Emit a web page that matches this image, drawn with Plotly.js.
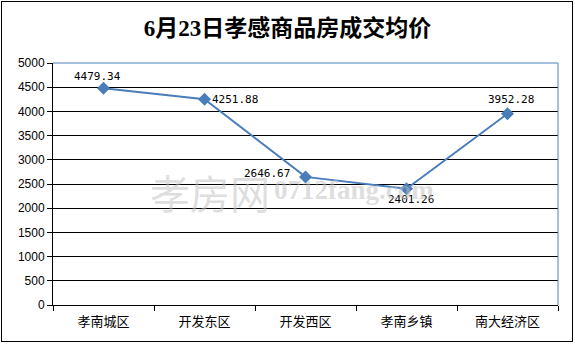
<!DOCTYPE html>
<html><head><meta charset="utf-8">
<script src="https://cdn.plot.ly/plotly-3.0.1.min.js"></script>
<style>
html,body{margin:0;padding:0;background:#fff;}
#wrap{position:absolute;left:1px;top:1px;width:572px;height:341px;border:1.5px solid #000;box-sizing:border-box;pointer-events:none;}
#chart{position:absolute;left:0;top:0;width:575px;height:344px;}
</style>
</head><body>
<div id="chart"></div>
<div id="wrap"></div>
<script>
const categories = ['孝南城区','开发东区','开发西区','孝南乡镇','南大经济区'];
const prices = [4479.34, 4251.88, 2646.67, 2401.26, 3952.28];
const priceLabels = ['4479.34','4251.88','2646.67','2401.26','3952.28'];
const yTicks = [0,500,1000,1500,2000,2500,3000,3500,4000,4500,5000];

// label placement relative to each point (style only)
const labelAnchors = [
  {xanchor: 'center', xshift: -6, yshift: 12},
  {xanchor: 'left', xshift: 5, yshift: 0},
  {xanchor: 'right', xshift: -14, yshift: 3},
  {xanchor: 'center', xshift: 4, yshift: -11},
  {xanchor: 'center', xshift: 3, yshift: 14}
];

const trace = {
  x: categories, y: prices, type: 'scatter', mode: 'lines+markers',
  line: {color: '#4a7ebb', width: 2},
  marker: {symbol: 'diamond', size: 10, color: '#4a7ebb'},
  cliponaxis: false, hoverinfo: 'none'
};

const labelAnnotations = categories.map((c, i) => Object.assign({
  x: c, y: prices[i], xref: 'x', yref: 'y', text: priceLabels[i], showarrow: false,
  yanchor: 'middle',
  font: {family: '"DejaVu Sans Mono", monospace', size: 11, color: '#000'}
}, labelAnchors[i]));

const layout = {
  width: 575, height: 344,
  margin: {l: 53, r: 17, t: 63, b: 39},
  paper_bgcolor: '#fff', plot_bgcolor: '#fff',
  showlegend: false,
  title: {text: '<b>6月23日孝感商品房成交均价</b>', x: 0.5, xanchor: 'center', y: 0.92, yanchor: 'middle',
          font: {family: '"Liberation Serif", "Noto Sans CJK SC", serif', size: 23, color: '#000'}},
  xaxis: {type: 'category', range: [-0.5, 4.5], showgrid: false, zeroline: false,
          showline: true, linecolor: '#000', linewidth: 1,
          ticks: 'outside', ticklen: 5, tickcolor: '#000', tickson: 'boundaries',
          ticklabelstandoff: 4,
          tickfont: {family: '"Noto Sans CJK SC", sans-serif', size: 13, color: '#000'}},
  yaxis: {range: [0, 5000], tickvals: yTicks, ticktext: yTicks.map(String),
          showgrid: true, gridcolor: '#000', gridwidth: 1, zeroline: false,
          showline: true, linecolor: '#000', linewidth: 1,
          ticks: 'outside', ticklen: 5, tickcolor: '#000',
          tickfont: {family: '"Liberation Sans", Arial, sans-serif', size: 12, color: '#000'}},
  shapes: [
    {type: 'line', xref: 'paper', yref: 'paper', x0: 0, x1: 1, y0: 1, y1: 1, line: {color: '#4a7ebb', width: 1}},
    {type: 'line', xref: 'paper', yref: 'paper', x0: 1, x1: 1, y0: 0, y1: 1, line: {color: '#4a7ebb', width: 1}}
  ],
  annotations: labelAnnotations.concat([
    {text: '孝房网', xref: 'paper', yref: 'paper', x: 0.31, y: 0.467, xanchor: 'center', yanchor: 'middle', showarrow: false,
     font: {family: '"Noto Sans CJK SC", sans-serif', size: 40, color: 'rgba(190,190,190,0.5)'}},
    {text: '<b>0712fang.com</b>', xref: 'paper', yref: 'paper', x: 0.434, y: 0.475, xanchor: 'left', yanchor: 'middle', showarrow: false,
     font: {family: '"Liberation Serif", serif', size: 27, color: 'rgba(190,190,190,0.5)'}}
  ])
};

Plotly.newPlot('chart', [trace], layout, {staticPlot: true, displayModeBar: false});
</script>
</body></html>
